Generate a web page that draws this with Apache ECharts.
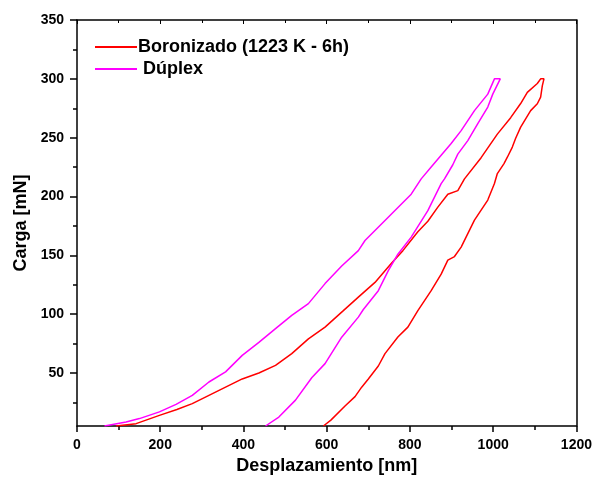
<!DOCTYPE html>
<html>
<head>
<meta charset="utf-8">
<script src="https://cdn.jsdelivr.net/npm/echarts@6/dist/echarts.min.js"></script>
<style>
  html, body { margin: 0; padding: 0; background: #fff; }
  #chart { width: 595px; height: 483px; }
</style>
</head>
<body>
<div id="chart"></div>
<script>
// Load–displacement curves (loading branch followed by unloading branch)
const seriesNames = ['Boronizado (1223 K - 6h)', 'Dúplex'];

const boronizado = [
  [94, 5], [142, 7], [198, 14], [240, 19], [277, 24], [317, 31], [357, 38], [397, 45],
  [437, 50], [477, 56.5], [516, 66.5], [556, 79], [596, 89], [640, 103], [676, 114.5],
  [716, 127], [755, 143], [783, 154], [819, 170], [843, 179], [867, 191], [891, 202],
  [915, 205], [931, 215], [971, 233], [1010, 253], [1042, 267], [1066, 279], [1082, 288.5],
  [1106, 296], [1114, 300], [1122, 300],
  [1118, 294], [1114, 284.5], [1106, 278.8], [1090, 273], [1078, 266], [1066, 259],
  [1054, 249.5], [1046, 242], [1034, 233.4], [1026, 228], [1010, 219.5], [1003, 211],
  [987, 197], [955, 180], [923, 157], [907, 149], [891, 146], [875, 134], [851, 120],
  [819, 103], [795, 89], [771, 80.6], [740, 66.5], [724, 56], [700, 45], [684, 38],
  [668, 30], [644, 22], [610, 10], [592, 5]
];

const duplex = [
  [66, 5], [118, 8.4], [150, 11.3], [198, 17], [238, 23.4], [277, 31], [317, 42.4],
  [357, 51], [397, 65], [437, 76], [477, 87.7], [516, 99], [556, 109], [596, 126],
  [636, 141], [676, 154], [692, 162.6], [755, 185], [803, 202], [827, 215], [851, 225],
  [899, 245], [923, 256], [955, 273], [987, 287], [1003, 300], [1017, 300],
  [999, 287], [987, 276], [963, 262], [939, 247.5], [915, 236], [903, 227], [883, 215],
  [875, 211], [843, 188], [803, 165.5], [771, 151], [748, 137], [724, 120], [688, 104],
  [676, 97.5], [636, 80.5], [596, 58], [564, 46], [525, 27], [485, 12.6], [453, 5]
];

const yMajorTicks = [50, 100, 150, 200, 250, 300, 350];
const yMinorTicks = [25, 75, 125, 175, 225, 275, 325];

const FONT = '"Liberation Sans", Arial, sans-serif';
const black = '#000';

const chart = echarts.init(document.getElementById('chart'), null, { renderer: 'canvas' });

const boldText = (size) => ({ fontFamily: FONT, fontWeight: 'bold', fontSize: size, color: black });
const plain = (v) => String(v);

chart.setOption({
  animation: false,
  backgroundColor: '#fff',
  grid: { left: 77, right: 16, top: 20, bottom: 57, containLabel: false },
  legend: {
    data: seriesNames,
    orient: 'vertical',
    left: 95,
    top: 38,
    padding: 0,
    itemGap: 4,
    itemWidth: 42,
    itemHeight: 2,
    icon: 'rect',
    formatter: (name) => (name === 'Dúplex' ? ' ' + name : name),
    textStyle: Object.assign(boldText(18), { padding: [0, 0, 0, -4] })
  },
  xAxis: [
    {
      type: 'value', position: 'bottom', min: 0, max: 1200, interval: 200,
      axisLine: { show: true, lineStyle: { color: black, width: 1.5 } },
      axisTick: { show: true, inside: false, length: 6, lineStyle: { color: black, width: 1.5 } },
      minorTick: { show: true, splitNumber: 2, length: 4, lineStyle: { color: black, width: 1.5 } },
      splitLine: { show: false },
      axisLabel: Object.assign(boldText(14), { margin: 12, formatter: plain }),
      name: 'Desplazamiento [nm]',
      nameLocation: 'middle',
      nameGap: 26,
      nameTextStyle: boldText(18)
    },
    {
      type: 'value', position: 'top', min: 0, max: 1200, interval: 200,
      axisLine: { show: true, lineStyle: { color: black, width: 1.5 } },
      axisTick: { show: true, inside: true, length: 4, lineStyle: { color: black, width: 1 } },
      minorTick: { show: true, splitNumber: 2, length: 3, lineStyle: { color: black, width: 1 } },
      splitLine: { show: false },
      axisLabel: { show: false }
    }
  ],
  yAxis: [
    {
      type: 'value', position: 'left', min: 5, max: 350,
      axisLine: { show: true, lineStyle: { color: black, width: 1.5 } },
      axisTick: { show: true, inside: false, length: 7, customValues: yMajorTicks,
                  lineStyle: { color: black, width: 1.5 } },
      splitLine: { show: false },
      axisLabel: Object.assign(boldText(14), { margin: 13, customValues: yMajorTicks, formatter: plain }),
      name: 'Carga [mN]',
      nameLocation: 'middle',
      nameGap: 44,
      nameTextStyle: boldText(18)
    },
    {
      type: 'value', position: 'left', min: 5, max: 350,
      axisLine: { show: false },
      axisTick: { show: true, inside: false, length: 4, customValues: yMinorTicks,
                  lineStyle: { color: black, width: 1.5 } },
      splitLine: { show: false },
      axisLabel: { show: false }
    },
    {
      type: 'value', position: 'right', min: 5, max: 350,
      axisLine: { show: true, lineStyle: { color: black, width: 1.5 } },
      axisTick: { show: false },
      splitLine: { show: false },
      axisLabel: { show: false }
    }
  ],
  series: [
    {
      name: seriesNames[0], type: 'line', data: boronizado,
      xAxisIndex: 0, yAxisIndex: 0,
      showSymbol: false, symbol: 'none', smooth: false,
      color: '#ff0000',
      lineStyle: { color: '#ff0000', width: 1.5 }
    },
    {
      name: seriesNames[1], type: 'line', data: duplex,
      xAxisIndex: 0, yAxisIndex: 0,
      showSymbol: false, symbol: 'none', smooth: false,
      color: '#ff00ff',
      lineStyle: { color: '#ff00ff', width: 1.5 }
    }
  ]
});
</script>
</body>
</html>
